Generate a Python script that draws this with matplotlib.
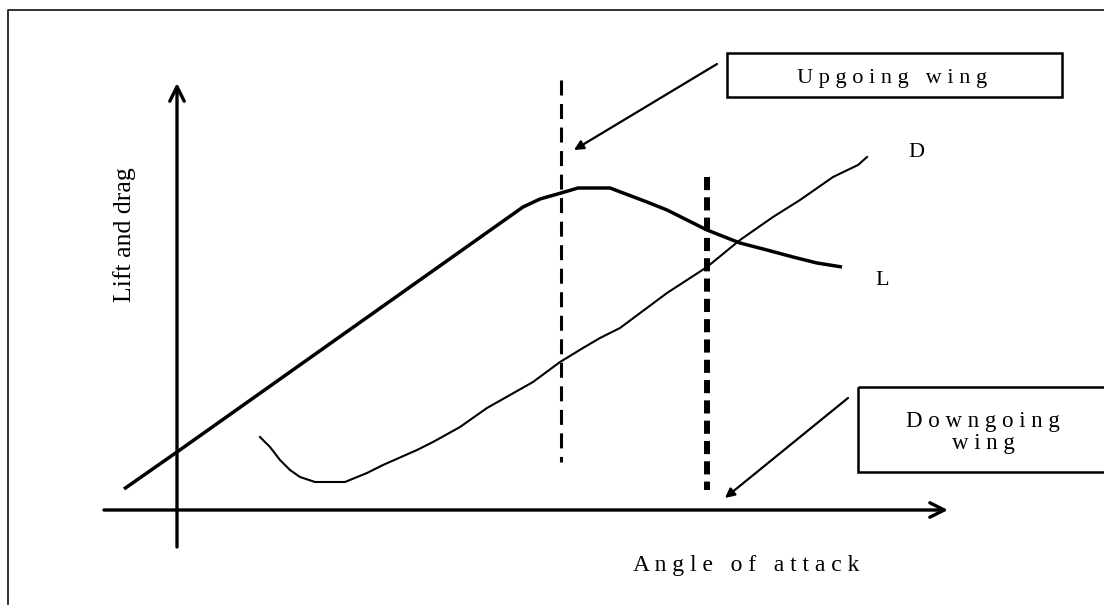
import matplotlib
matplotlib.use('Agg')
import matplotlib.pyplot as plt
from matplotlib.patches import Rectangle

plt.rcParams['font.family'] = ['Liberation Serif', 'DejaVu Serif']

# diagram units: x to the right, y downwards (like the drawing sheet)
lift_x = [124, 177, 523, 540, 561, 578, 610, 647, 667, 707, 740, 767, 793, 817, 842]
lift_y = [489, 452, 207, 199, 193, 188, 188, 202, 210, 230, 243, 250, 257, 263, 267]

drag_x = [260, 270, 280, 290, 300, 315, 345, 367, 383, 417, 433, 460, 487, 533,
          560, 583, 600, 620, 667, 707, 740, 773, 800, 833, 858, 867]
drag_y = [437, 447, 460, 470, 477, 482, 482, 473, 465, 450, 442, 427, 408, 382,
          362, 348, 338, 328, 293, 267, 240, 217, 200, 177, 165, 157]

upgoing_x = 561        # stall line of the upgoing wing
upgoing_span = (80, 462)
downgoing_x = 707      # stall line of the downgoing wing
downgoing_span = (177, 490)

fig = plt.figure(figsize=(11.04, 6.05), dpi=100)
ax = fig.add_axes([0, 0, 1, 1])
ax.set_xlim(0, 1104)
ax.set_ylim(605, 0)
ax.axis('off')

# outer frame (only left and top edges are in the picture)
ax.plot([8, 8, 1104], [605, 10, 10], color='#222222', lw=1.3)

# axes with open arrow heads
ax.annotate('', xy=(948, 510), xytext=(104, 510),
            arrowprops=dict(arrowstyle='->', lw=2.4, color='black',
                            mutation_scale=26, shrinkA=0, shrinkB=0))
ax.annotate('', xy=(177, 83), xytext=(177, 547),
            arrowprops=dict(arrowstyle='->', lw=2.4, color='black',
                            mutation_scale=26, shrinkA=0, shrinkB=0))

# curves
ax.plot(lift_x, lift_y, color='black', lw=2.5, solid_capstyle='butt')
ax.plot(drag_x, drag_y, color='black', lw=1.5)

# stall lines
ax.plot([upgoing_x, upgoing_x], upgoing_span, color='black', lw=2.2,
        linestyle=(0, (4.9, 2.8)))
ax.plot([downgoing_x, downgoing_x], downgoing_span, color='black', lw=4.3,
        linestyle=(0, (2.2, 1.2)))

# labels on curves
ax.text(916, 157, 'D', fontsize=16, ha='center', va='baseline')
ax.text(882, 285, 'L', fontsize=16, ha='center', va='baseline')

# axis titles
ax.text(125, 235, 'Lift and drag', fontsize=18.5, rotation=90,
        ha='center', va='center')
ax.text(746, 571, 'A n g l e   o f   a t t a c k', fontsize=17,
        ha='center', va='baseline')

# callout boxes
ax.add_patch(Rectangle((727, 53), 335, 44, fill=False, lw=1.8, edgecolor='black'))
ax.text(892, 83, 'U p g o i n g   w i n g', fontsize=16,
        ha='center', va='baseline')
ax.add_patch(Rectangle((858, 387), 260, 85, fill=False, lw=1.8, edgecolor='black'))
ax.text(983, 427, 'D o w n g o i n g', fontsize=16.5, ha='center', va='baseline')
ax.text(983, 449, 'w i n g', fontsize=16.5, ha='center', va='baseline')

# pointers
ax.annotate('', xy=(574, 150), xytext=(717, 64),
            arrowprops=dict(arrowstyle='-|>', lw=1.6, color='black',
                            mutation_scale=14, shrinkA=0, shrinkB=0))
ax.annotate('', xy=(725, 498), xytext=(848, 398),
            arrowprops=dict(arrowstyle='-|>', lw=1.6, color='black',
                            mutation_scale=14, shrinkA=0, shrinkB=0))

fig.savefig('out.png', dpi=100)
